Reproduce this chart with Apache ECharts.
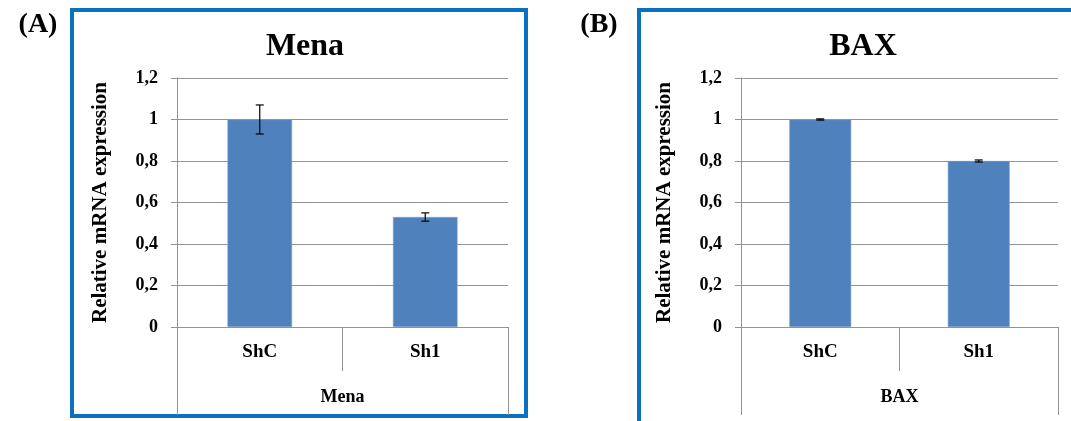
<!DOCTYPE html>
<html>
<head>
<meta charset="utf-8">
<script src="https://cdn.jsdelivr.net/npm/echarts@6/dist/echarts.min.js"></script>
<style>
  html, body { margin: 0; padding: 0; background: #fff; }
  #chart { width: 1071px; height: 421px; }
</style>
</head>
<body>
<div id="chart"></div>
<script>
// Relative mRNA expression of Mena and BAX (ShC control vs Sh1 knock-down)
const categories = ['ShC', 'Sh1'];
const menaValues = [1.0, 0.53];
const menaErrors = [0.07, 0.02];
const baxValues = [1.0, 0.80];
const baxErrors = [0.003, 0.005];
const panelTitles = ['Mena', 'BAX'];
const panelTags = ['(A)', '(B)'];
const yAxisName = 'Relative mRNA expression';

const SERIF = "'Liberation Serif', 'Times New Roman', serif";
const BAR_COLOR = '#4F81BD';
const GRID_COLOR = '#939393';
const FRAME_BLUE = '#0A70C0';

const fmt = v => String(+v.toFixed(1)).replace('.', ',');

function yAxisFor(gridIndex) {
  return {
    type: 'value', gridIndex, min: 0, max: 1.2, interval: 0.2,
    name: yAxisName, nameLocation: 'middle', nameGap: 66, nameRotate: 90,
    nameTextStyle: { fontFamily: SERIF, fontWeight: 'bold', fontSize: 21, color: '#000' },
    axisLine: { show: true, lineStyle: { color: GRID_COLOR, width: 1 } },
    axisTick: { show: true, length: 6, lineStyle: { color: GRID_COLOR } },
    splitLine: { show: true, lineStyle: { color: GRID_COLOR, width: 1 } },
    axisLabel: { margin: 19, formatter: fmt, fontFamily: SERIF, fontWeight: 'bold', fontSize: 18, color: '#000' }
  };
}

function catAxisFor(gridIndex) {
  return {
    type: 'category', gridIndex, data: categories, boundaryGap: true, position: 'bottom',
    axisLine: { show: true, lineStyle: { color: GRID_COLOR, width: 1 } },
    axisTick: { show: true, length: 44, interval: 0, lineStyle: { color: GRID_COLOR } },
    axisLabel: { margin: 16, fontFamily: SERIF, fontWeight: 'bold', fontSize: 19, color: '#000' }
  };
}

function groupAxisFor(gridIndex, label) {
  return {
    type: 'category', gridIndex, data: [label], boundaryGap: true, position: 'bottom',
    axisLine: { show: false },
    axisTick: { show: true, length: 88, interval: 0, lineStyle: { color: GRID_COLOR } },
    axisLabel: { margin: 61, fontFamily: SERIF, fontWeight: 'bold', fontSize: 18, color: '#000' }
  };
}

function barSeries(xi, yi, values) {
  return {
    type: 'bar', xAxisIndex: xi, yAxisIndex: yi, data: values, barWidth: '39%',
    itemStyle: { color: BAR_COLOR, borderColor: '#7FA2D0', borderWidth: 0.5 },
    silent: true, animation: false
  };
}

function errorSeries(xi, yi, values, errors) {
  return {
    type: 'custom', xAxisIndex: xi, yAxisIndex: yi, animation: false, silent: true, z: 5,
    data: values.map((v, i) => [i, v, errors[i]]),
    renderItem(params, api) {
      const i = api.value(0), v = api.value(1), e = api.value(2);
      const hi = api.coord([i, v + e]);
      const lo = api.coord([i, v - e]);
      const cap = 4;
      const style = { stroke: '#000', lineWidth: 1.2 };
      return {
        type: 'group',
        children: [
          { type: 'line', shape: { x1: hi[0], y1: hi[1], x2: lo[0], y2: lo[1] }, style },
          { type: 'line', shape: { x1: hi[0] - cap, y1: hi[1], x2: hi[0] + cap, y2: hi[1] }, style },
          { type: 'line', shape: { x1: lo[0] - cap, y1: lo[1], x2: lo[0] + cap, y2: lo[1] }, style }
        ]
      };
    }
  };
}

const chart = echarts.init(document.getElementById('chart'), null, { renderer: 'canvas' });
chart.setOption({
  backgroundColor: '#fff',
  animation: false,
  title: [
    { text: panelTags[0], left: 33, top: 6, textAlign: 'center',
      textStyle: { fontFamily: SERIF, fontWeight: 'bold', fontSize: 28, color: '#000' } },
    { text: panelTags[1], left: 594, top: 6, textAlign: 'center',
      textStyle: { fontFamily: SERIF, fontWeight: 'bold', fontSize: 28, color: '#000' } },
    { text: panelTitles[0], left: 300, top: 26, textAlign: 'center',
      textStyle: { fontFamily: SERIF, fontWeight: 'bold', fontSize: 32, color: '#000' } },
    { text: panelTitles[1], left: 858, top: 26, textAlign: 'center',
      textStyle: { fontFamily: SERIF, fontWeight: 'bold', fontSize: 32, color: '#000' } }
  ],
  graphic: [
    { type: 'rect', shape: { x: 72, y: 10, width: 454, height: 406 },
      style: { fill: 'none', stroke: FRAME_BLUE, lineWidth: 4 }, z: -1 },
    { type: 'rect', shape: { x: 639, y: 10, width: 460, height: 440 },
      style: { fill: 'none', stroke: FRAME_BLUE, lineWidth: 4 }, z: -1 }
  ],
  grid: [
    { left: 177, right: 563, top: 78, bottom: 94 },
    { left: 741, right: 13, top: 78, bottom: 94 }
  ],
  xAxis: [
    catAxisFor(0),
    groupAxisFor(0, panelTitles[0]),
    catAxisFor(1),
    groupAxisFor(1, panelTitles[1])
  ],
  yAxis: [yAxisFor(0), yAxisFor(1)],
  series: [
    barSeries(0, 0, menaValues),
    errorSeries(0, 0, menaValues, menaErrors),
    barSeries(2, 1, baxValues),
    errorSeries(2, 1, baxValues, baxErrors)
  ]
});
</script>
</body>
</html>
